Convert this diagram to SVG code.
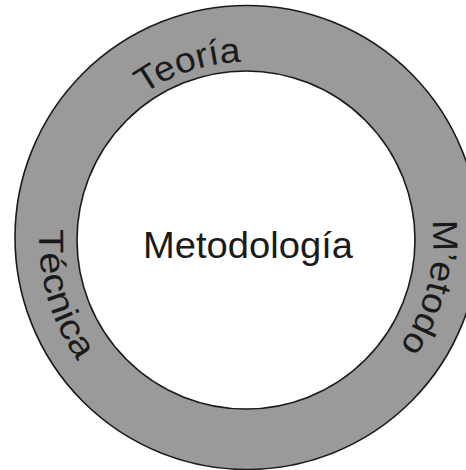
<svg xmlns="http://www.w3.org/2000/svg" width="466" height="470" viewBox="0 0 466 470">
  <style>
    .ring { fill: #9a9a9a; stroke: #1a1a1a; stroke-width: 1.6; }
    .core { fill: #ffffff; stroke: #1a1a1a; stroke-width: 1.6; }
    .label { font-family: "Liberation Sans", Arial, Helvetica, sans-serif; fill: #1a1a1a; }
    .arc { font-size: 35px; }
    .center { font-size: 36px; }
  </style>
  <defs>
    <!-- baselines for the labels that run around the ring -->
    <path id="arc-teoria" d="M143.9,94.2 A178,178 0 0,1 360.4,103.6" fill="none"/>
    <path id="arc-metodo" d="M432,220.5 A187,187 0 0,1 339.5,402" fill="none"/>
    <path id="arc-tecnica" d="M39.3,229.2 A207,207 0 0,0 175.2,434.5" fill="none"/>
  </defs>

  <g id="ring">
    <circle class="ring" cx="247" cy="237.5" r="232"/>
  </g>

  <g id="metodologia">
    <circle class="core" cx="246" cy="240" r="169"/>
    <text class="label center" x="143" y="258" textLength="210" lengthAdjust="spacingAndGlyphs">Metodología</text>
  </g>

  <g id="teoria">
    <text class="label arc"><textPath href="#arc-teoria" textLength="104" lengthAdjust="spacingAndGlyphs">Teoría</textPath></text>
  </g>

  <g id="metodo">
    <text class="label arc"><textPath href="#arc-metodo" textLength="133" lengthAdjust="spacingAndGlyphs">M’etodo</textPath></text>
  </g>

  <g id="tecnica">
    <text class="label arc"><textPath href="#arc-tecnica" textLength="140" lengthAdjust="spacingAndGlyphs">Técnica</textPath></text>
  </g>

  <g id="connectors"/>
</svg>
